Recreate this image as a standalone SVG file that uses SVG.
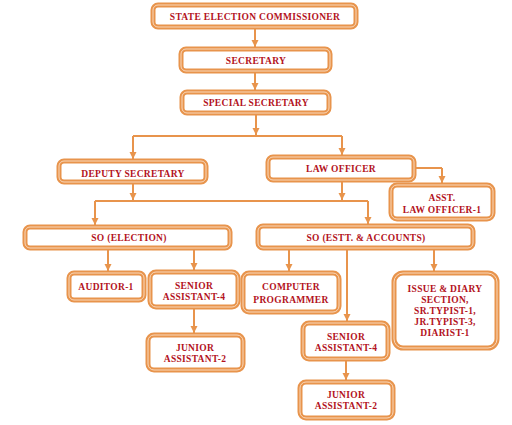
<svg xmlns="http://www.w3.org/2000/svg" width="512" height="425" viewBox="0 0 512 425">
<defs>
<marker id="ah" markerUnits="userSpaceOnUse" markerWidth="8" markerHeight="8" refX="7" refY="4" orient="auto">
<path d="M0,0.5 L7,4 L0,7.5 Z" fill="#E8944C"/>
</marker>
<style>
.b{fill:#fff;stroke:#E8944C;stroke-width:5}
.bi{fill:none;stroke:#FAD9BC;stroke-width:1}
.t{font-family:"Liberation Serif","Times New Roman",serif;font-weight:bold;font-size:9.5px;fill:#B3121C;text-anchor:middle;letter-spacing:0.3px}
.c{fill:none;stroke:#E8944C;stroke-width:2}
.ca{fill:none;stroke:#E8944C;stroke-width:2;marker-end:url(#ah)}
</style>
</defs>
<rect width="512" height="425" fill="#fff"/>
<g id="connectors">
<path class="ca" d="M255,28 V47"/>
<path class="ca" d="M255,72 V90"/>
<path class="ca" d="M256,114 V135"/>
<path class="c" d="M133,136 H342"/>
<path class="ca" d="M133,136 V159"/>
<path class="ca" d="M342,136 V155"/>
<path class="c" d="M416,168 H442"/>
<path class="ca" d="M442,168 V183"/>
<path class="ca" d="M133,184 V200"/>
<path class="ca" d="M342,182 V200"/>
<path class="c" d="M95,201 H368"/>
<path class="ca" d="M95,201 V225"/>
<path class="ca" d="M368,201 V224"/>
<path class="ca" d="M108,250 V271"/>
<path class="ca" d="M194,250 V270"/>
<path class="ca" d="M194,309 V333"/>
<path class="ca" d="M289,250 V271"/>
<path class="ca" d="M347,250 V321"/>
<path class="ca" d="M346,361 V380"/>
<path class="ca" d="M434,250 V271"/>
</g>
<g id="sec">
<rect class="b" x="153" y="5" width="203" height="22" rx="5"/><rect class="bi" x="153" y="5" width="203" height="22" rx="5"/>
<text class="t" x="255" y="19.5">STATE ELECTION COMMISSIONER</text>
</g>
<g id="secretary">
<rect class="b" x="181" y="49" width="149" height="22" rx="5"/><rect class="bi" x="181" y="49" width="149" height="22" rx="5"/>
<text class="t" x="256" y="63.5">SECRETARY</text>
</g>
<g id="special">
<rect class="b" x="182" y="92" width="147" height="21" rx="5"/><rect class="bi" x="182" y="92" width="147" height="21" rx="5"/>
<text class="t" x="256" y="106">SPECIAL SECRETARY</text>
</g>
<g id="deputy">
<rect class="b" x="59" y="161" width="147" height="21" rx="5"/><rect class="bi" x="59" y="161" width="147" height="21" rx="5"/>
<text class="t" x="133" y="177">DEPUTY SECRETARY</text>
</g>
<g id="law">
<rect class="b" x="268" y="157" width="146" height="23" rx="5"/><rect class="bi" x="268" y="157" width="146" height="23" rx="5"/>
<text class="t" x="341" y="172">LAW OFFICER</text>
</g>
<g id="asstlaw">
<rect class="b" x="391" y="185" width="102" height="34" rx="6"/><rect class="bi" x="391" y="185" width="102" height="34" rx="6"/>
<text class="t" x="442" y="201">ASST.</text>
<text class="t" x="442" y="213">LAW OFFICER-1</text>
</g>
<g id="soelection">
<rect class="b" x="25" y="227" width="205" height="21" rx="5"/><rect class="bi" x="25" y="227" width="205" height="21" rx="5"/>
<text class="t" x="129" y="241">SO (ELECTION)</text>
</g>
<g id="soestt">
<rect class="b" x="258" y="226" width="215" height="22" rx="5"/><rect class="bi" x="258" y="226" width="215" height="22" rx="5"/>
<text class="t" x="366" y="240.5">SO (ESTT. &amp; ACCOUNTS)</text>
</g>
<g id="auditor">
<rect class="b" x="69" y="273" width="75" height="27" rx="5"/><rect class="bi" x="69" y="273" width="75" height="27" rx="5"/>
<text class="t" x="106" y="290">AUDITOR-1</text>
</g>
<g id="seniorL">
<rect class="b" x="150" y="272" width="88" height="35" rx="6"/><rect class="bi" x="150" y="272" width="88" height="35" rx="6"/>
<text class="t" x="194" y="288.5">SENIOR</text>
<text class="t" x="194" y="299.5">ASSISTANT-4</text>
</g>
<g id="juniorL">
<rect class="b" x="148" y="335" width="95" height="35" rx="6"/><rect class="bi" x="148" y="335" width="95" height="35" rx="6"/>
<text class="t" x="195" y="350.5">JUNIOR</text>
<text class="t" x="195" y="361.5">ASSISTANT-2</text>
</g>
<g id="computer">
<rect class="b" x="243" y="273" width="96" height="39" rx="6"/><rect class="bi" x="243" y="273" width="96" height="39" rx="6"/>
<text class="t" x="291" y="290">COMPUTER</text>
<text class="t" x="291" y="302.5">PROGRAMMER</text>
</g>
<g id="seniorR">
<rect class="b" x="303" y="323" width="85" height="36" rx="6"/><rect class="bi" x="303" y="323" width="85" height="36" rx="6"/>
<text class="t" x="346" y="339.5">SENIOR</text>
<text class="t" x="346" y="350.5">ASSISTANT-4</text>
</g>
<g id="juniorR">
<rect class="b" x="300" y="382" width="93" height="36" rx="6"/><rect class="bi" x="300" y="382" width="93" height="36" rx="6"/>
<text class="t" x="346" y="397.5">JUNIOR</text>
<text class="t" x="346" y="409">ASSISTANT-2</text>
</g>
<g id="issue">
<rect class="b" x="394" y="273" width="103" height="75" rx="9"/><rect class="bi" x="394" y="273" width="103" height="75" rx="9"/>
<text class="t" x="445" y="291.5">ISSUE &amp; DIARY</text>
<text class="t" x="445" y="302.5">SECTION,</text>
<text class="t" x="445" y="313.5">SR.TYPIST-1,</text>
<text class="t" x="445" y="324.5">JR.TYPIST-3,</text>
<text class="t" x="445" y="335.5">DIARIST-1</text>
</g>
</svg>
